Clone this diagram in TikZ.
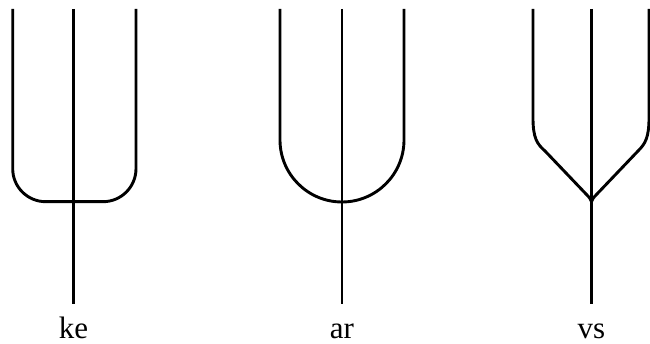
\documentclass[tikz,border=0pt]{standalone}
\usepackage{fontspec}
\setmainfont{Liberation Serif}
\begin{document}
\begin{tikzpicture}[x=1pt,y=1pt,
  stroke/.style={line width=2.9pt, line join=round, line cap=butt},
  lbl/.style={anchor=base, inner sep=0pt, text depth=0pt, font=\fontsize{31}{34}\selectfont}]
\useasboundingbox (0,0) rectangle (650,344);
% ke
\coordinate (k1t) at (12.7,335);
\coordinate (k1b) at (12.7,142.3);
\coordinate (k3b) at (136,142.3);
\coordinate (k3t) at (136,335);
\coordinate (kct) at (73.5,335);
\coordinate (kcb) at (73.5,40);
\draw[stroke, rounded corners=33pt] (k1t) -- (k1b) -- (k3b) -- (k3t);
\draw[stroke] (kct) -- (kcb);
\node[lbl] (ke) at (73.5,5.5) {ke};
% ar
\coordinate (a1t) at (280,335);
\coordinate (a1b) at (280,204);
\coordinate (a3t) at (404,335);
\coordinate (act) at (342,335);
\coordinate (acb) at (342,40);
\draw[stroke] (a1t) -- (a1b) arc[start angle=180, end angle=360, radius=62] -- (a3t);
\draw[stroke] (act) -- (acb);
\node[lbl] (ar) at (342,5.5) {ar};
% vs
\coordinate (v1t) at (533,335);
\coordinate (v1b) at (533,226);
\coordinate (v3t) at (649,335);
\coordinate (v3b) at (649,226);
\coordinate (vj) at (591.5,142.3);
\coordinate (vct) at (591.5,335);
\coordinate (vcb) at (591.5,40);
\draw[stroke] (v1t) -- (v1b) .. controls (533,206) and (537,200) .. (545,193)
  -- (586,150) .. controls (589.5,146.5) and (591,144.5) .. (vj);
\draw[stroke] (v3t) -- (v3b) .. controls (649,206) and (645,200) .. (638,193)
  -- (597,150) .. controls (593.5,146.5) and (592,144.5) .. (vj);
\draw[stroke] (vct) -- (vcb);
\node[lbl] (vs) at (591.5,5.5) {vs};
\end{tikzpicture}
\end{document}
